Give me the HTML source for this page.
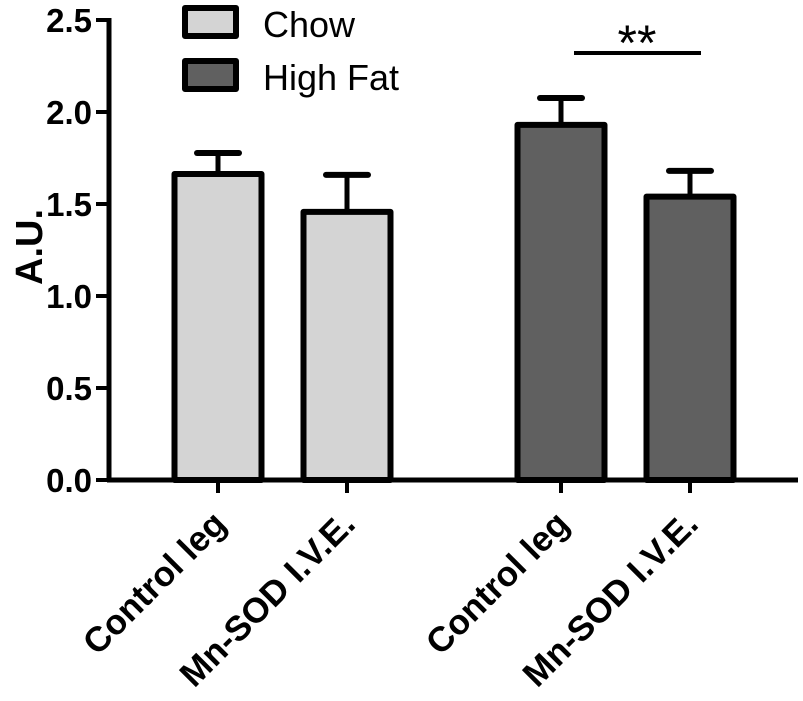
<!DOCTYPE html>
<html><head><meta charset="utf-8"><style>
html,body{margin:0;padding:0;background:#fff;}
svg{display:block;font-family:"Liberation Sans",Arial,sans-serif;}
</style></head><body>
<svg id="chart" width="803" height="701" viewBox="0 0 803 701"></svg>
<script>
const categories = ["Control leg","Mn-SOD I.V.E.","Control leg","Mn-SOD I.V.E."];
const groups = ["Chow","Chow","High Fat","High Fat"];
const means = [1.663, 1.457, 1.93, 1.54];
const errors = [0.114, 0.201, 0.146, 0.14];
const yTicks = [0, 0.5, 1.0, 1.5, 2.0, 2.5];
const yTickLabels = ["0.0","0.5","1.0","1.5","2.0","2.5"];
const legendLabels = ["Chow","High Fat"];

const NS="http://www.w3.org/2000/svg";
const svg=document.getElementById('chart');
const fills={"Chow":"#d4d4d4","High Fat":"#606060"};
const y0=480, yTop=20, vMax=2.5;
function yScale(v){return y0-(v/vMax)*(y0-yTop);}
const centers=[218,347,561,690];
function xScale(i){return centers[i];}
const barW=87;
function mk(tag,attrs,name){const e=document.createElementNS(NS,tag);for(const k in attrs)e.setAttribute(k,attrs[k]);


svg.appendChild(e);return e;}

categories.forEach((c,i)=>{
  const cx=xScale(i), top=yScale(means[i]), capY=yScale(means[i]+errors[i]);
  mk('line',{x1:cx,y1:top,x2:cx,y2:capY,stroke:'#000','stroke-width':5},'error-bar-'+(i+1));
  mk('line',{x1:cx-21,y1:capY,x2:cx+21,y2:capY,stroke:'#000','stroke-width':6,'stroke-linecap':'round'},'error-cap-'+(i+1));
  mk('rect',{x:cx-barW/2,y:top,width:barW,height:y0-top,fill:fills[groups[i]],stroke:'#000','stroke-width':6,'stroke-linejoin':'round'},'bar-'+(i+1));
  mk('line',{x1:cx,y1:y0,x2:cx,y2:493,stroke:'#000','stroke-width':4},'x-tick-'+(i+1));
  const t=mk('text',{x:0,y:0,'font-size':35,'font-weight':'bold','text-anchor':'end',transform:`translate(${cx+10},${526}) rotate(-45)`},'x-label-'+(i+1));
  t.textContent=c;
});
mk('line',{x1:109,y1:18,x2:109,y2:482,stroke:'#000','stroke-width':5},'y-axis');
mk('line',{x1:107,y1:480,x2:798,y2:480,stroke:'#000','stroke-width':5},'x-axis');
yTicks.forEach((v,i)=>{
  const y=yScale(v);
  mk('line',{x1:96,y1:y,x2:109,y2:y,stroke:'#000','stroke-width':4},'y-tick-'+i);
  const t=mk('text',{x:92,y:y+12,'font-size':33,'font-weight':'bold','text-anchor':'end'},'y-tick-label-'+i);
  t.textContent=yTickLabels[i];
});
const yl=mk('text',{x:0,y:0,'font-size':38,'font-weight':'bold','text-anchor':'middle',transform:'translate(42,247) rotate(-90)'},'y-axis-title');
yl.textContent="A.U.";
legendLabels.forEach((l,i)=>{
  const y=8+i*53;
  mk('rect',{x:185,y:y,width:51,height:28,fill:fills[l],stroke:'#000','stroke-width':6,'stroke-linejoin':'round'},'legend-swatch-'+(i+1));
  const t=mk('text',{x:263,y:y+29,'font-size':36},'legend-label-'+(i+1));
  t.textContent=l;
});
mk('line',{x1:574,y1:53,x2:701,y2:53,stroke:'#000','stroke-width':4},'significance-line');
const s=mk('text',{x:637,y:60,'font-size':50,'text-anchor':'middle'},'significance-stars');
s.textContent="**";
</script>
</body></html>
